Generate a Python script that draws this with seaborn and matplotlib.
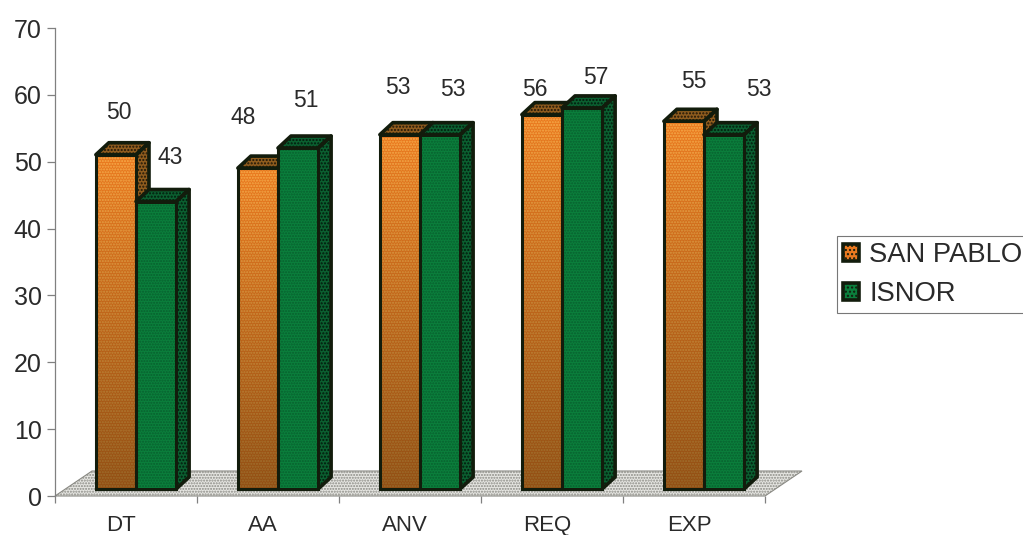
import numpy as np
import pandas as pd
import matplotlib
matplotlib.use("Agg")
import matplotlib.pyplot as plt
import seaborn as sns
from matplotlib.patches import Polygon, Patch
from matplotlib.transforms import Affine2D

categories = ["DT", "AA", "ANV", "REQ", "EXP"]
san_pablo = [50, 48, 53, 56, 55]
isnor = [43, 51, 53, 57, 53]
series_names = ["SAN PABLO", "ISNOR"]
y_ticks = [0, 10, 20, 30, 40, 50, 60, 70]

# label nudges in pixels relative to the top of the bar front: (dx, up)
label_nudges_san = [(4, 41), (-14, 50), (-1, 46), (-6, 24), (11, 39)]
label_nudges_isnor = [(15, 43), (9, 47), (14, 44), (15, 29), (36, 44)]

INK = "#2a2a2a"
EDGE = "#121c0c"
FRONT = {"SAN PABLO": "#ea7a20", "ISNOR": "#0b7f3c"}
HATCH = {"SAN PABLO": "#f7ad4c", "ISNOR": "#07602e"}
SIDE = {"SAN PABLO": "#8f5c1e", "ISNOR": "#0b5f30"}
SIDE_HATCH = {"SAN PABLO": "#1e1608", "ISNOR": "#031a0c"}

W, H = 1023, 535
sns.set_theme(style="white")
plt.rcParams["font.family"] = ["Liberation Sans", "DejaVu Sans"]
plt.rcParams["hatch.linewidth"] = 1.0

fig = plt.figure(figsize=(W / 100, H / 100), dpi=100)
left, right, top, bottom = 55, 765, 28, 496
ax = fig.add_axes([left / W, 1 - bottom / H, (right - left) / W, (bottom - top) / H])

df = pd.DataFrame({
    "category": categories * 2,
    "value": san_pablo + isnor,
    "series": [series_names[0]] * 5 + [series_names[1]] * 5,
})
sns.barplot(data=df, x="category", y="value", hue="series", order=categories,
            hue_order=series_names, palette=FRONT, width=0.565, gap=0,
            legend=False, ax=ax, saturation=1)
ax.set_xlim(-0.5, 4.5)
ax.set_ylim(0, 70)
ax.set_xlabel("")
ax.set_ylabel("")

# pixel offsets for the fake perspective: bars stand part way back on the floor
bar_shift = Affine2D().translate(10, 7)
shifted = ax.transData + bar_shift
DEPTH_X, DEPTH_Y = 13, 12
FLOOR_X, FLOOR_Y = 37, 25

floor_front = ax.transData.transform([(-0.5, 0), (4.5, 0)])
floor_px = np.array([floor_front[0], floor_front[1],
                     floor_front[1] + (FLOOR_X, FLOOR_Y),
                     floor_front[0] + (FLOOR_X, FLOOR_Y)])
ax.add_patch(Polygon(floor_px, closed=True, transform=None, facecolor="#e6e6e2",
                     edgecolor="#8a8a84", hatch="......", lw=0.8, zorder=1, clip_on=False))

gradient = np.linspace(0, 1, 64).reshape(-1, 1)
shade = matplotlib.colors.LinearSegmentedColormap.from_list(
    "shade", [(0.2, 0.13, 0.03, 0.48), (0.2, 0.13, 0.03, 0.0)])

bars = {name: container for name, container in zip(series_names, ax.containers)}
base_z = 2
for i in range(len(categories)):
    for name in series_names:
        bar = bars[name][i]
        x0, x1, h = bar.get_x(), bar.get_x() + bar.get_width(), bar.get_height()
        (fx0, fy0), (fx1, fy1) = shifted.transform([(x0, 0), (x1, h)])
        side = [(fx1, fy0), (fx1 + DEPTH_X, fy0 + DEPTH_Y),
                (fx1 + DEPTH_X, fy1 + DEPTH_Y), (fx1, fy1)]
        cap = [(fx0, fy1), (fx0 + DEPTH_X, fy1 + DEPTH_Y),
               (fx1 + DEPTH_X, fy1 + DEPTH_Y), (fx1, fy1)]
        for poly in (side, cap):
            ax.add_patch(Polygon(poly, closed=True, transform=None, facecolor=SIDE[name],
                                 edgecolor=SIDE_HATCH[name], hatch=".....", lw=0,
                                 zorder=base_z, clip_on=False))
            ax.add_patch(Polygon(poly, closed=True, transform=None, fill=False,
                                 edgecolor=EDGE, lw=2.6, joinstyle="round",
                                 zorder=base_z + 0.1, clip_on=False))
        bar.set_transform(shifted)
        bar.set_facecolor(FRONT[name])
        bar.set_edgecolor(HATCH[name])
        bar.set_hatch("......")
        bar.set_linewidth(0)
        bar.set_zorder(base_z + 0.2)
        bar.set_clip_on(False)
        if name == "SAN PABLO":
            ax.imshow(gradient, extent=(x0, x1, 0, h), origin="lower", aspect="auto",
                      cmap=shade, transform=shifted, zorder=base_z + 0.3,
                      vmin=0, vmax=1, clip_on=False)
        ax.add_patch(plt.Rectangle((x0, 0), x1 - x0, h, transform=shifted, fill=False,
                                   edgecolor=EDGE, lw=2.2, zorder=base_z + 0.4, clip_on=False))
        base_z += 1

ax.set_xlim(-0.5, 4.5)
ax.set_ylim(0, 70)

# value labels
for name, values, nudges in ((series_names[0], san_pablo, label_nudges_san),
                             (series_names[1], isnor, label_nudges_isnor)):
    for bar, v, (dx, up) in zip(bars[name], values, nudges):
        cx, cy = shifted.transform((bar.get_x() + bar.get_width() / 2, v))
        ax.text(cx + dx - 1, cy + up + 1, str(v), transform=None, ha="center", va="center",
                fontsize=16.5, color=INK, zorder=100, clip_on=False)

# axes furniture
for s in ("top", "right", "bottom"):
    ax.spines[s].set_visible(False)
ax.spines["left"].set_color("#808080")
ax.spines["left"].set_linewidth(0.9)
ax.set_yticks(y_ticks)
ax.tick_params(axis="y", left=True, length=5.5, width=0.9, color="#808080",
               labelsize=18, labelcolor=INK, pad=4)
ax.set_xticks(np.arange(5))
ax.set_xticklabels(categories)
ax.tick_params(axis="x", bottom=False, length=0, labelsize=16, labelcolor=INK, pad=14)
ax.set_xticks(np.arange(-0.5, 5), minor=True)
ax.tick_params(axis="x", which="minor", bottom=True, length=5, width=0.9, color="#808080")
for lab in ax.get_xticklabels():
    lab.set_transform(lab.get_transform() + Affine2D().translate(-5, 0))

handles = [Patch(facecolor=FRONT[n], edgecolor=EDGE, lw=2.6, hatch="....", label=n)
           for n in series_names]
leg = fig.legend(handles=handles, loc="upper left", bbox_to_anchor=(837 / W, 1 - 236 / H),
                 bbox_transform=fig.transFigure, frameon=True, fancybox=False, framealpha=1,
                 edgecolor="#777777", fontsize=19.7, handlelength=0.6, handleheight=0.6,
                 handletextpad=0.35, labelspacing=0.48, borderaxespad=0, borderpad=0.22,
                 labelcolor=INK)
leg.get_frame().set_linewidth(0.8)

fig.savefig("out.png", dpi=100, facecolor="white")
